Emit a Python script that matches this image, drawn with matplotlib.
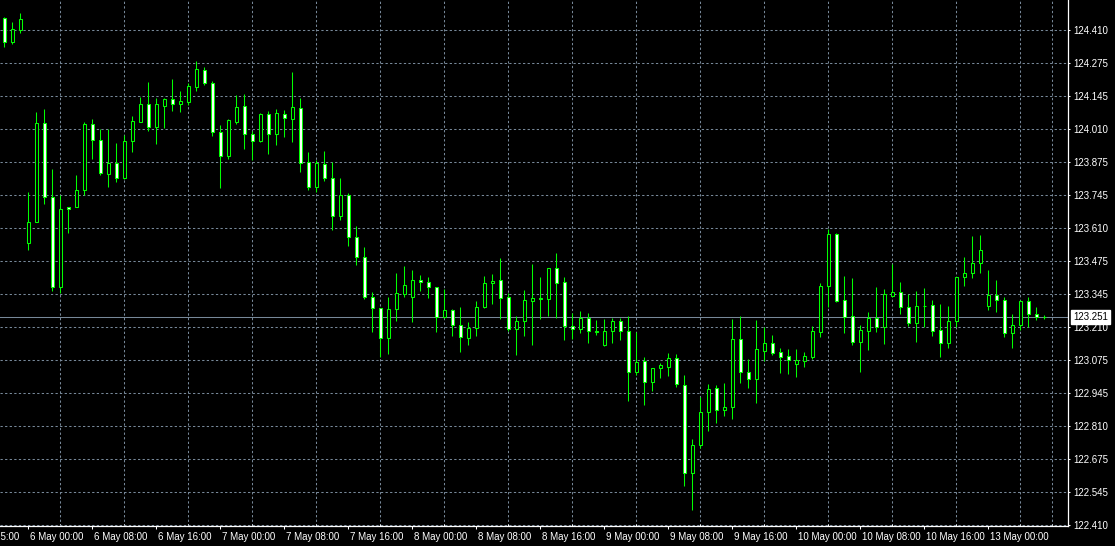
import matplotlib
matplotlib.use("Agg")
import matplotlib.pyplot as plt
from matplotlib.transforms import ScaledTranslation, blended_transform_factory
import numpy as np

# hourly candles, 5 May 21:00 -> 13 May 07:00 (weekend bars skipped)
opens = [124.459, 124.364, 124.411, 123.549, 123.637, 124.034, 123.735, 123.372, 123.696, 123.695,
         123.764, 124.030, 123.966, 123.828, 123.873, 123.812, 123.962, 124.041, 124.112, 124.020,
         124.105, 124.131, 124.111, 124.122, 124.182, 124.250, 124.197, 123.998, 123.903, 124.041,
         124.104, 123.990, 123.964, 124.072, 123.990, 124.071, 124.053, 124.095, 123.877, 123.778,
         123.869, 123.812, 123.661, 123.745, 123.574, 123.493, 123.331, 123.287, 123.166, 123.283,
         123.345, 123.334, 123.400, 123.392, 123.372, 123.250, 123.279, 123.218, 123.166, 123.206,
         123.293, 123.388, 123.400, 123.331, 123.202, 123.234, 123.317, 123.327, 123.325, 123.448,
         123.392, 123.217, 123.202, 123.246, 123.194, 123.138, 123.196, 123.237, 123.196, 123.031,
         123.075, 122.988, 123.044, 123.051, 123.085, 122.976, 122.620, 122.733, 122.867, 122.964,
         122.875, 122.887, 123.162, 123.028, 123.002, 123.115, 123.145, 123.110, 123.093, 123.061,
         123.075, 123.091, 123.192, 123.377, 123.587, 123.320, 123.257, 123.152, 123.196, 123.246,
         123.210, 123.338, 123.351, 123.293, 123.226, 123.296, 123.299, 123.198, 123.145, 123.234,
         123.412, 123.428, 123.469, 123.295, 123.339, 123.319, 123.188, 123.218, 123.316, 123.263,
         123.250]
highs = [124.462, 124.442, 124.479, 123.758, 124.079, 124.092, 123.850, 123.745, 123.697, 123.825,
         124.038, 124.052, 124.010, 124.010, 123.953, 123.988, 124.064, 124.142, 124.201, 124.135,
         124.138, 124.213, 124.165, 124.196, 124.286, 124.261, 124.205, 124.027, 124.052, 124.149,
         124.154, 124.003, 124.077, 124.084, 124.091, 124.088, 124.240, 124.135, 123.917, 123.886,
         123.922, 123.877, 123.812, 123.751, 123.619, 123.533, 123.351, 123.289, 123.331, 123.428,
         123.458, 123.441, 123.421, 123.412, 123.374, 123.364, 123.283, 123.291, 123.230, 123.315,
         123.417, 123.425, 123.489, 123.347, 123.256, 123.361, 123.466, 123.412, 123.450, 123.509,
         123.414, 123.267, 123.276, 123.267, 123.240, 123.242, 123.246, 123.246, 123.256, 123.192,
         123.089, 123.045, 123.064, 123.105, 123.102, 123.017, 122.759, 122.927, 122.980, 122.976,
         122.984, 123.242, 123.256, 123.081, 123.240, 123.210, 123.179, 123.125, 123.121, 123.121,
         123.111, 123.215, 123.390, 123.606, 123.592, 123.417, 123.408, 123.219, 123.271, 123.372,
         123.364, 123.466, 123.394, 123.345, 123.358, 123.368, 123.320, 123.304, 123.296, 123.414,
         123.494, 123.579, 123.583, 123.441, 123.401, 123.331, 123.264, 123.320, 123.331, 123.291,
         123.260]
lows = [124.344, 124.353, 124.400, 123.522, 123.635, 123.708, 123.358, 123.350, 123.590, 123.694,
        123.745, 123.889, 123.825, 123.776, 123.798, 123.810, 123.920, 124.040, 124.004, 123.951,
        124.015, 124.084, 124.080, 124.108, 124.166, 124.189, 123.984, 123.772, 123.890, 124.031,
        123.930, 123.886, 123.960, 123.910, 123.947, 123.980, 123.960, 123.839, 123.765, 123.758,
        123.802, 123.603, 123.644, 123.539, 123.462, 123.324, 123.192, 123.091, 123.102, 123.237,
        123.334, 123.233, 123.358, 123.327, 123.192, 123.248, 123.176, 123.111, 123.140, 123.176,
        123.287, 123.303, 123.242, 123.196, 123.099, 123.176, 123.138, 123.242, 123.256, 123.249,
        123.159, 123.162, 123.186, 123.148, 123.179, 123.136, 123.148, 123.159, 122.913, 123.017,
        122.896, 122.954, 123.004, 123.013, 122.968, 122.570, 122.472, 122.721, 122.792, 122.825,
        122.852, 122.838, 122.984, 122.966, 122.905, 123.075, 123.098, 123.024, 123.021, 123.008,
        123.048, 123.081, 123.170, 123.291, 123.313, 123.186, 123.138, 123.031, 123.118, 123.192,
        123.143, 123.334, 123.264, 123.215, 123.152, 123.212, 123.175, 123.089, 123.128, 123.210,
        123.378, 123.408, 123.428, 123.280, 123.273, 123.170, 123.128, 123.199, 123.210, 123.240,
        123.242]
closes = [124.364, 124.414, 124.454, 123.637, 124.034, 123.735, 123.372, 123.687, 123.686, 123.764,
          124.030, 123.966, 123.832, 123.873, 123.812, 123.962, 124.042, 124.112, 124.020, 124.112,
          124.132, 124.111, 124.124, 124.185, 124.254, 124.196, 123.998, 123.903, 124.048, 124.100,
          123.990, 123.964, 124.072, 123.990, 124.075, 124.054, 124.099, 123.873, 123.778, 123.873,
          123.812, 123.661, 123.745, 123.574, 123.495, 123.331, 123.287, 123.166, 123.283, 123.347,
          123.380, 123.400, 123.392, 123.372, 123.250, 123.279, 123.218, 123.170, 123.206, 123.293,
          123.388, 123.396, 123.327, 123.202, 123.234, 123.319, 123.327, 123.326, 123.449, 123.390,
          123.217, 123.202, 123.246, 123.194, 123.190, 123.194, 123.237, 123.196, 123.031, 123.071,
          122.988, 123.044, 123.056, 123.085, 122.980, 122.620, 122.733, 122.867, 122.959, 122.876,
          122.887, 123.162, 123.028, 123.002, 123.121, 123.145, 123.107, 123.091, 123.079, 123.078,
          123.094, 123.195, 123.377, 123.587, 123.315, 123.253, 123.152, 123.199, 123.246, 123.210,
          123.343, 123.351, 123.293, 123.226, 123.296, 123.296, 123.196, 123.145, 123.234, 123.412,
          123.428, 123.469, 123.521, 123.339, 123.319, 123.188, 123.218, 123.316, 123.264, 123.252,
          123.251]

bid = 123.251

time_labels = ["6 May 00:00", "6 May 08:00", "6 May 16:00", "7 May 00:00", "7 May 08:00",
               "7 May 16:00", "8 May 00:00", "8 May 08:00", "8 May 16:00", "9 May 00:00",
               "9 May 08:00", "9 May 16:00", "10 May 00:00", "10 May 08:00", "10 May 16:00",
               "13 May 00:00"]
price_labels = ["124.410", "124.275", "124.145", "124.010", "123.875", "123.745", "123.610",
                "123.475", "123.345", "123.210", "123.075", "122.945", "122.810", "122.675",
                "122.545", "122.410"]

plt.rcParams["font.family"] = ["Liberation Sans", "DejaVu Sans"]

green = "#00ff00"
gridc = "#778899"

fig = plt.figure(figsize=(11.15, 5.46), dpi=100, facecolor="black")
ax = fig.add_axes([0, 20 / 546, 1068 / 1115, 526 / 546])
ax.set_facecolor("black")

o = np.array(opens)
h = np.array(highs)
l = np.array(lows)
c = np.array(closes)
x = np.arange(len(o))
bull = c >= o

# wicks first, then bodies on top (bull = black, bear = white)
ax.vlines(x, l, h, color=green, lw=0.75, zorder=3)
ax.bar(x, np.abs(c - o), bottom=np.minimum(o, c), width=0.42,
       color=np.where(bull, "black", "white"), edgecolor=green, linewidth=0.75, zorder=4)

# bid line
ax.axhline(bid, color=gridc, lw=0.75, zorder=2)

ax.set_xlim(-0.5375, 132.96)
ax.set_ylim(122.4071, 124.5324)

# ticks / grid
ax.set_xticks(np.arange(3, 131, 8))
ax.set_xticklabels(time_labels)
ax.set_xticks(np.arange(3, 133, 4), minor=True)
ax.set_yticks(124.41 - np.arange(16) * 2 / 15)
ax.set_yticklabels(price_labels)
ax.yaxis.tick_right()

ax.xaxis.grid(True, which="minor", color=gridc, lw=0.75, linestyle=(0, (2.2, 2.2)), zorder=1)
ax.yaxis.grid(True, which="major", color=gridc, lw=0.75, linestyle=(0, (2.2, 2.2)), zorder=1)
ax.xaxis.grid(False, which="major")
ax.set_axisbelow(True)

for s in ["left", "top"]:
    ax.spines[s].set_visible(False)
for s in ["right", "bottom"]:
    ax.spines[s].set_color("white")
    ax.spines[s].set_linewidth(0.9)

ax.tick_params(axis="x", which="major", direction="out", length=2.2, width=0.75, pad=2.2,
               colors="white", labelsize=7)
ax.tick_params(axis="x", which="minor", direction="in", length=1.5, width=0.75, colors="white")
ax.tick_params(axis="y", which="major", direction="out", length=1.5, width=0.75, pad=2.5,
               colors="white", labelsize=7, left=False, right=True, labelleft=False, labelright=True)

shift = ScaledTranslation(2 / 100, 0, fig.dpi_scale_trans)
for lbl in ax.get_xticklabels():
    lbl.set_horizontalalignment("left")
    lbl.set_transform(lbl.get_transform() + shift)

# cut-off labels at the chart edges
bt = blended_transform_factory(ax.transData, ax.transAxes)
ax.text(-5, 0, "3 May 15:00", transform=bt + ScaledTranslation(2 / 100, -6.1 / 100, fig.dpi_scale_trans),
        ha="left", va="top", color="white", fontsize=7, clip_on=False)
rt = blended_transform_factory(ax.transAxes, ax.transData)
ax.text(1.0, 124.41 + 2 / 15, "124.545", transform=rt + ScaledTranslation(5 / 100, 0, fig.dpi_scale_trans),
        ha="left", va="center", color="white", fontsize=7, clip_on=False)

# current price box
ax.text(1.0, bid, "123.251", transform=rt + ScaledTranslation(5 / 100, 0, fig.dpi_scale_trans),
        ha="left", va="center", color="black", fontsize=7, clip_on=False, zorder=6,
        bbox=dict(facecolor="white", edgecolor="white", boxstyle="square,pad=0.2"))

fig.savefig("out.png", dpi=100, facecolor="black")
